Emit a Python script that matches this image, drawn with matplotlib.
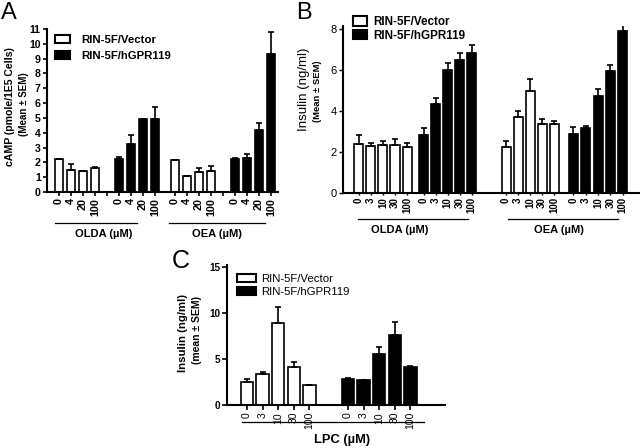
import matplotlib
matplotlib.use('Agg')
import matplotlib.pyplot as plt
import numpy as np
from matplotlib.patches import Patch
from matplotlib.lines import Line2D

plt.rcParams['font.family'] = ['Liberation Sans', 'DejaVu Sans']

W, H = 640, 448

# ---------------- data ----------------
series_names = ['RIN-5F/Vector', 'RIN-5F/hGPR119']

# Panel A: cAMP
a_doses = ['0', '4', '20', '100']
a_olda_vec = [2.2, 1.5, 1.4, 1.65]
a_olda_vec_err = [0.0, 0.38, 0.05, 0.05]
a_olda_gpr = [2.25, 3.26, 4.95, 4.95]
a_olda_gpr_err = [0.08, 0.56, 0.0, 0.76]
a_oea_vec = [2.18, 1.06, 1.35, 1.44]
a_oea_vec_err = [0.0, 0.0, 0.3, 0.29]
a_oea_gpr = [2.25, 2.27, 4.21, 9.31]
a_oea_gpr_err = [0.05, 0.3, 0.45, 1.5]

# Panel B: insulin
b_doses = ['0', '3', '10', '30', '100']
b_olda_vec = [2.41, 2.28, 2.36, 2.36, 2.23]
b_olda_vec_err = [0.4, 0.16, 0.16, 0.29, 0.21]
b_olda_gpr = [2.85, 4.34, 6.02, 6.47, 6.83]
b_olda_gpr_err = [0.32, 0.29, 0.32, 0.36, 0.41]
b_oea_vec = [2.23, 3.69, 4.99, 3.37, 3.37]
b_oea_vec_err = [0.29, 0.33, 0.59, 0.26, 0.13]
b_oea_gpr = [2.88, 3.17, 4.72, 5.97, 7.89]
b_oea_gpr_err = [0.32, 0.11, 0.35, 0.29, 0.4]

# Panel C: insulin, LPC
c_doses = ['0', '3', '10', '30', '100']
c_vec = [2.46, 3.32, 8.93, 4.08, 2.17]
c_vec_err = [0.32, 0.22, 1.66, 0.55, 0.05]
c_gpr = [2.82, 2.71, 5.49, 7.59, 4.16]
c_gpr_err = [0.08, 0.05, 0.83, 1.44, 0.05]

# ---------------- helpers ----------------
fig = plt.figure(figsize=(6.4, 4.48), dpi=100)


def add_ax(l, t, r, b):
    return fig.add_axes([l / W, 1 - b / H, (r - l) / W, (b - t) / H])


def draw(ax, pos, vals, errs, color, width):
    pos = np.asarray(pos, float)
    ax.bar(pos, vals, width, color=color, edgecolor='black', linewidth=1.2, zorder=2)
    ax.errorbar(pos, vals, yerr=[np.zeros(len(errs)), errs], fmt='none', ecolor='black',
                elinewidth=1.2, capsize=2.5, capthick=1.2, zorder=3)


def style(ax, lw=1.5):
    for s in ['top', 'right']:
        ax.spines[s].set_visible(False)
    for s in ['left', 'bottom']:
        ax.spines[s].set_linewidth(lw)


def fig_line(x1, x2, y):
    fig.add_artist(Line2D([x1 / W, x2 / W], [1 - y / H, 1 - y / H], color='black',
                          linewidth=0.9, transform=fig.transFigure))


def fig_text(x, y, s, **kw):
    fig.text(x / W, 1 - y / H, s, ha='center', va='center', **kw)


def legend(ax, x, y, fs, weight, hl, hh, tp, ls):
    handles = [Patch(facecolor='white', edgecolor='black', linewidth=1.5),
               Patch(facecolor='black', edgecolor='black', linewidth=1.5)]
    ax.legend(handles, series_names, loc='upper left', bbox_to_anchor=(x / W, 1 - y / H),
              bbox_transform=fig.transFigure, frameon=False, borderpad=0, borderaxespad=0,
              handlelength=hl, handleheight=hh, handletextpad=tp, labelspacing=ls,
              prop={'size': fs, 'weight': weight})


# ---------------- Panel A ----------------
axA = add_ax(47, 29, 278, 192)
style(axA)
pa1 = np.arange(4) * 1.0
pa2 = 5 + np.arange(4)
pa3 = 9.67 + np.arange(4)
pa4 = 14.67 + np.arange(4)
wA = 0.72
draw(axA, pa1, a_olda_vec, a_olda_vec_err, 'white', wA)
draw(axA, pa2, a_olda_gpr, a_olda_gpr_err, 'black', wA)
draw(axA, pa3, a_oea_vec, a_oea_vec_err, 'white', wA)
draw(axA, pa4, a_oea_gpr, a_oea_gpr_err, 'black', wA)
axA.set_xlim(-1.0, 18.25)
axA.set_ylim(0, 11)
axA.set_yticks(range(0, 12))
axA.set_yticklabels([str(i) for i in range(12)], fontsize=7.6, fontweight='bold')
posA = np.concatenate([pa1, pa2, pa3, pa4])
axA.set_xticks(posA)
axA.set_xticklabels(a_doses * 4, rotation=90, fontsize=7.8, fontweight='bold')
axA.set_xticks([4, 13.67], minor=True)
axA.tick_params(axis='both', which='both', length=3, width=1.2, pad=1.5)
legend(axA, 55, 35, 8.2, 'bold', 1.3, 0.7, 1.0, 0.55)
fig_line(55, 137, 223)
fig_line(169, 265, 223)
fig_text(104, 234, 'OLDA (\u00b5M)', fontsize=8, fontweight='bold')
fig_text(217, 234, 'OEA (\u00b5M)', fontsize=8, fontweight='bold')
fig_text(10, 107, 'cAMP (pmole/1E5 Cells)', rotation=90, fontsize=7.6, fontweight='bold')
fig_text(24, 104, '(Mean \u00b1 SEM)', rotation=90, fontsize=7, fontweight='bold')
fig_text(9, 13, 'A', fontsize=17)

# ---------------- Panel B ----------------
axB = add_ax(343, 25.7, 640, 193)
style(axB)
pb1 = np.arange(5) * 1.0
pb2 = 5.4 + np.arange(5)
pb3 = 12.25 + np.arange(5)
pb4 = 17.85 + np.arange(5) * 1.03
wB = 0.75
draw(axB, pb1, b_olda_vec, b_olda_vec_err, 'white', wB)
draw(axB, pb2, b_olda_gpr, b_olda_gpr_err, 'black', wB)
draw(axB, pb3, b_oea_vec, b_oea_vec_err, 'white', wB)
draw(axB, pb4, b_oea_gpr, b_oea_gpr_err, 'black', wB)
axB.set_xlim(-1.33, 23.4)
axB.set_ylim(0, 8.16)
axB.set_yticks([0, 2, 4, 6, 8])
axB.set_yticklabels(['0', '2', '4', '6', '8'], fontsize=8)
posB = np.concatenate([pb1, pb2, pb3, pb4])
axB.set_xticks(posB)
axB.set_xticklabels(b_doses * 4, rotation=90, fontsize=7, fontweight='bold')
axB.tick_params(axis='y', length=3, width=1.0, pad=1.5)
axB.tick_params(axis='x', length=1.5, width=1.0, pad=1.5)
legend(axB, 353, 16, 8.4, 'bold', 1.2, 0.85, 0.5, 0.15)
fig_line(358, 468, 219)
fig_line(508, 618, 219)
fig_text(400, 230, 'OLDA (\u00b5M)', fontsize=8, fontweight='bold')
fig_text(559, 230, 'OEA (\u00b5M)', fontsize=8, fontweight='bold')
fig_text(304, 89, 'Insulin (ng/ml)', rotation=90, fontsize=9.5)
fig_text(318, 91, '(Mean \u00b1 SEM)', rotation=90, fontsize=6.8, fontweight='bold')
fig_text(304, 13, 'B', fontsize=17)

# ---------------- Panel C ----------------
axC = add_ax(227, 265, 445, 405)
style(axC)
pc1 = np.arange(5) * 1.0
pc2 = 6.47 + np.arange(5)
wC = 0.8
draw(axC, pc1, c_vec, c_vec_err, 'white', wC)
draw(axC, pc2, c_gpr, c_gpr_err, 'black', wC)
axC.set_xlim(-1.28, 12.69)
axC.set_ylim(0, 15.2)
axC.set_yticks([0, 5, 10, 15])
axC.set_yticklabels(['0', '5', '10', '15'], fontsize=7.2, fontweight='bold')
posC = np.concatenate([pc1, pc2])
axC.set_xticks(posC)
axC.set_xticklabels(c_doses * 2, rotation=90, fontsize=7.5)
axC.tick_params(axis='both', length=3.5, width=1.2, pad=1.5)
legend(axC, 237, 274, 8.2, 'normal', 1.65, 0.7, 0.5, 0.25)
fig_line(242, 424, 422)
fig_text(342, 440, 'LPC (\u00b5M)', fontsize=9.3, fontweight='bold')
fig_text(183, 333, 'Insulin (ng/ml)', rotation=90, fontsize=8.2, fontweight='bold')
fig_text(197, 330, '(mean \u00b1 SEM)', rotation=90, fontsize=7.5, fontweight='bold')
fig_text(181, 261, 'C', fontsize=18)

fig.savefig('out.png', dpi=100)
